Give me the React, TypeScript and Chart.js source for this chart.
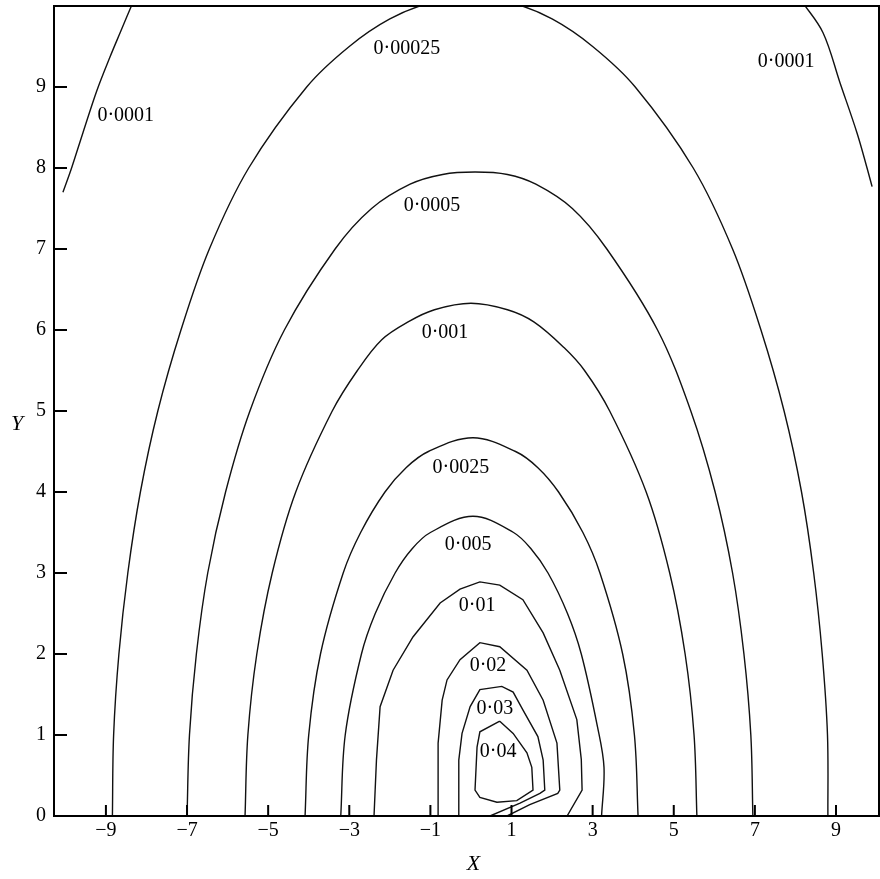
import React, { useEffect, useRef } from "react";
import { Chart, registerables } from "chart.js";

Chart.register(...registerables);

// ---- axis ----
const X_MIN = -10.28;
const X_MAX = 10.06;
const Y_MIN = 0;
const Y_MAX = 10;
const xTickValues = [-9, -7, -5, -3, -1, 1, 3, 5, 7, 9];
const xTickLabels = ["\u22129", "\u22127", "\u22125", "\u22123", "\u22121", "1", "3", "5", "7", "9"];
const yTickValues = [0, 1, 2, 3, 4, 5, 6, 7, 8, 9];
const yTickLabels = ["0", "1", "2", "3", "4", "5", "6", "7", "8", "9"];
const xTitle = "X";
const yTitle = "Y";

// ---- contour lines (data units) ----
const c0001aX = [-10.06, -9.84, -9.57, -9.22, -8.9, -8.65, -8.33];
const c0001aY = [7.7, 8.01, 8.43, 8.96, 9.37, 9.67, 10.05];
const c0001bX = [8.17, 8.68, 9.1, 9.52, 9.76, 9.89];
const c0001bY = [10.05, 9.67, 9.05, 8.43, 8.01, 7.77];

const c00025X = [-8.84, -8.81, -8.68, -8.46, -8.15, -7.72, -7.15, -6.45, -5.48, -4.05, -3.0, -2.0, -1.0, 0, 1.0, 2.0, 3.0, 4.05, 5.48, 6.45, 7.15, 7.72, 8.15, 8.45, 8.66, 8.79, 8.8];
const c00025Y = [0, 1, 2, 3, 4, 5, 6, 7, 8, 9, 9.5, 9.84, 10.04, 10.1, 10.04, 9.84, 9.5, 9, 8, 7, 6, 5, 4, 3, 2, 1, 0];

const c0005X = [-7.0, -6.94, -6.77, -6.49, -6.05, -5.45, -4.6, -3.35, -2.45, -1.5, -0.7, 0.1, 0.9, 1.6, 2.5, 3.35, 4.6, 5.42, 6.02, 6.45, 6.73, 6.9, 6.95];
const c0005Y = [0, 1, 2, 3, 4, 5, 6, 7, 7.5, 7.8, 7.92, 7.95, 7.92, 7.8, 7.5, 7, 6, 5, 4, 3, 2, 1, 0];

const c001X = [-5.57, -5.5, -5.28, -4.9, -4.32, -3.42, -2.8, -2.2, -1.55, -0.9, 0, 0.9, 1.55, 2.3, 2.8, 3.42, 4.32, 4.9, 5.28, 5.5, 5.57];
const c001Y = [0, 1, 2, 3, 4, 5, 5.5, 5.88, 6.1, 6.25, 6.33, 6.25, 6.1, 5.78, 5.5, 5, 4, 3, 2, 1, 0];

const c0025X = [-4.09, -4.0, -3.71, -3.15, -2.72, -2.12, -1.6, -1.05, 0.05, 1.1, 1.65, 2.16, 2.76, 3.18, 3.74, 4.03, 4.12];
const c0025Y = [0, 1, 2, 3, 3.5, 4, 4.3, 4.5, 4.67, 4.5, 4.3, 4, 3.5, 3, 2, 1, 0];

const c005X = [-3.21, -3.1, -2.7, -2.36, -1.87, -1.45, -1.0, 0.05, 1.05, 1.48, 1.9, 2.38, 2.72, 3.12, 3.28, 3.22];
const c005Y = [0, 1, 2, 2.5, 3, 3.3, 3.5, 3.7, 3.5, 3.3, 3, 2.5, 2, 1.1, 0.6, 0];

const c01X = [-2.39, -2.33, -2.24, -1.92, -1.43, -0.76, -0.27, 0.22, 0.71, 1.28, 1.78, 2.19, 2.61, 2.72, 2.74, 2.37];
const c01Y = [0, 0.69, 1.35, 1.8, 2.21, 2.63, 2.8, 2.89, 2.85, 2.67, 2.26, 1.8, 1.19, 0.7, 0.32, 0];

const c02X = [-0.81, -0.81, -0.71, -0.59, -0.27, 0.22, 0.71, 1.38, 1.78, 2.12, 2.19, 2.14, 1.45, 0.89];
const c02Y = [0, 0.9, 1.43, 1.68, 1.93, 2.14, 2.09, 1.8, 1.43, 0.9, 0.32, 0.28, 0.14, 0];

const c03X = [-0.3, -0.3, -0.22, -0.02, 0.22, 0.76, 1.04, 1.28, 1.65, 1.78, 1.82, 1.7, 1.21, 0.47];
const c03Y = [0, 0.69, 1.02, 1.35, 1.56, 1.6, 1.53, 1.31, 0.98, 0.69, 0.32, 0.28, 0.16, 0];

const c04X = [0.71, 0.22, 0.15, 0.1, 0.22, 0.64, 1.13, 1.53, 1.5, 1.38, 1.04, 0.71];
const c04Y = [1.17, 1.04, 0.85, 0.32, 0.23, 0.17, 0.19, 0.32, 0.6, 0.78, 1.02, 1.17];

// ---- contour level labels ----
const labelTexts = ["0\u00b70001", "0\u00b70001", "0\u00b700025", "0\u00b70005", "0\u00b7001", "0\u00b70025", "0\u00b7005", "0\u00b701", "0\u00b702", "0\u00b703", "0\u00b704"];
const labelX = [-8.51, 7.77, -1.58, -0.96, -0.64, -0.25, -0.07, 0.15, 0.42, 0.59, 0.67];
const labelY = [8.65, 9.31, 9.47, 7.54, 5.96, 4.3, 3.35, 2.6, 1.86, 1.33, 0.79];

const SERIF = "'Liberation Serif', 'Times New Roman', serif";

const contours = [
  { xs: c0001aX, ys: c0001aY, smooth: true },
  { xs: c0001bX, ys: c0001bY, smooth: true },
  { xs: c00025X, ys: c00025Y, smooth: true },
  { xs: c0005X, ys: c0005Y, smooth: true },
  { xs: c001X, ys: c001Y, smooth: true },
  { xs: c0025X, ys: c0025Y, smooth: true },
  { xs: c005X, ys: c005Y, smooth: true },
  { xs: c01X, ys: c01Y, smooth: false },
  { xs: c02X, ys: c02Y, smooth: false },
  { xs: c03X, ys: c03Y, smooth: false },
  { xs: c04X, ys: c04Y, smooth: false },
];

const decorPlugin = {
  id: "decor",
  afterDatasetsDraw(chart: any) {
    const { ctx, chartArea: a, scales } = chart;
    const xs = scales.x;
    const ys = scales.y;
    ctx.save();
    ctx.strokeStyle = "#000";
    ctx.lineWidth = 2;
    ctx.strokeRect(a.left, a.top, a.right - a.left, a.bottom - a.top);
    ctx.beginPath();
    xTickValues.forEach((v) => {
      const px = xs.getPixelForValue(v);
      ctx.moveTo(px, a.bottom);
      ctx.lineTo(px, a.bottom - 11);
    });
    yTickValues.forEach((v) => {
      if (v === 0) return;
      const py = ys.getPixelForValue(v);
      ctx.moveTo(a.left, py);
      ctx.lineTo(a.left + 13, py);
    });
    ctx.stroke();

    ctx.fillStyle = "#000";
    ctx.font = `20px ${SERIF}`;
    ctx.textAlign = "center";
    ctx.textBaseline = "middle";
    labelTexts.forEach((t, i) => {
      ctx.fillText(t, xs.getPixelForValue(labelX[i]), ys.getPixelForValue(labelY[i]));
    });

    ctx.font = `italic 22px ${SERIF}`;
    ctx.fillText(xTitle, (a.left + a.right) / 2 + 7, a.bottom + 48);
    ctx.fillText(yTitle, 17, (a.top + a.bottom) / 2 + 13);
    ctx.restore();
  },
};

export default function App() {
  const ref = useRef<HTMLCanvasElement>(null);
  useEffect(() => {
    const datasets = contours.map((c) => ({
      data: c.xs.map((x, i) => ({ x, y: c.ys[i] })),
      showLine: true,
      borderColor: "#111",
      borderWidth: 1.4,
      pointRadius: 0,
      pointHoverRadius: 0,
      fill: false,
      tension: c.smooth ? 0.35 : 0,
    }));
    const chart = new Chart(ref.current as HTMLCanvasElement, {
      type: "scatter",
      data: { datasets },
      options: {
        responsive: false,
        animation: false,
        layout: { padding: { top: 6, right: 1, left: 0, bottom: 0 } },
        plugins: { legend: { display: false }, tooltip: { enabled: false } },
        scales: {
          x: {
            type: "linear",
            min: X_MIN,
            max: X_MAX,
            grid: { display: false, drawTicks: false },
            border: { display: false },
            afterBuildTicks: (s: any) => {
              s.ticks = xTickValues.map((v) => ({ value: v }));
            },
            afterFit: (s: any) => {
              s.height = 63;
              s.paddingLeft = 0;
              s.paddingRight = 0;
              s.paddingTop = 0;
              s.paddingBottom = 0;
            },
            ticks: {
              autoSkip: false,
              maxRotation: 0,
              padding: 3,
              color: "#000",
              font: { family: SERIF, size: 20 },
              callback: (v: any) => xTickLabels[xTickValues.indexOf(Number(v))],
            },
          },
          y: {
            type: "linear",
            min: Y_MIN,
            max: Y_MAX,
            grid: { display: false, drawTicks: false },
            border: { display: false },
            afterBuildTicks: (s: any) => {
              s.ticks = yTickValues.map((v) => ({ value: v }));
            },
            afterFit: (s: any) => {
              s.width = 54;
              s.paddingLeft = 0;
              s.paddingRight = 0;
              s.paddingTop = 0;
              s.paddingBottom = 0;
            },
            ticks: {
              autoSkip: false,
              padding: 8,
              color: "#000",
              font: { family: SERIF, size: 20 },
              callback: (v: any) => yTickLabels[yTickValues.indexOf(Number(v))],
            },
          },
        },
      },
      plugins: [decorPlugin],
    } as any);
    return () => chart.destroy();
  }, []);
  return (
    <div style={{ position: "absolute", left: 0, top: 0, width: 880, height: 879, background: "#fff" }}>
      <canvas ref={ref} width={880} height={879} style={{ display: "block" }} />
    </div>
  );
}
